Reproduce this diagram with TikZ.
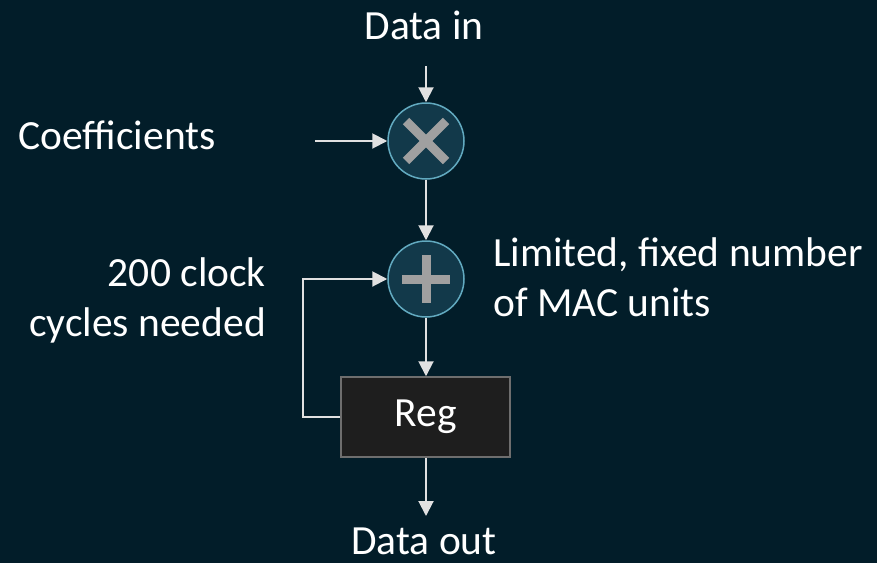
\documentclass[tikz,border=0pt]{standalone}
\usepackage{fontspec}
\setmainfont{Carlito}
\usetikzlibrary{arrows.meta,calc}
\definecolor{bg}{RGB}{2,29,41}
\definecolor{opfill}{RGB}{18,57,74}
\definecolor{opline}{RGB}{98,170,192}
\definecolor{symgray}{RGB}{160,160,160}
\definecolor{wire}{RGB}{225,225,225}
\definecolor{regfill}{RGB}{30,30,30}
\definecolor{regline}{RGB}{110,110,110}
\begin{document}
\begin{tikzpicture}[x=1pt,y=-1pt,
  lbl/.style={text=white,font=\fontsize{41.5}{50}\selectfont,inner sep=0pt},
  opnode/.style={circle,minimum size=76pt,inner sep=0pt,fill=opfill,draw=opline,line width=1.5pt},
  regbox/.style={rectangle,minimum width=169pt,minimum height=80pt,fill=regfill,draw=regline,line width=1.5pt,text=white,font=\fontsize{41.5}{50}\selectfont},
  wirearrow/.style={draw=wire,line width=2pt,-{Triangle[length=15pt,width=15pt,sep=0pt]}},
  sym/.style={draw=symgray,line width=9pt}
]
\fill[bg] (0,0) rectangle (877,563);
\useasboundingbox (0,0) rectangle (877,563);

\node[opnode] (mul) at (426,141) {};
\node[opnode] (add) at (426,279) {};
\node[regbox] (reg) at (425.5,417) {Reg};

\draw[sym] ($(mul)+(-20,-20)$) -- ($(mul)+(20,20)$);
\draw[sym] ($(mul)+(-20,20)$) -- ($(mul)+(20,-20)$);
\draw[sym] ($(add)+(-24,0)$) -- ($(add)+(24,0)$);
\draw[sym] ($(add)+(0,-24)$) -- ($(add)+(0,24)$);

\node[lbl] (din) at (424,25) {Data in};
\node[lbl] (dout) at (424,541) {Data out};
\node[lbl] (coef) at (117,135) {Coefficients};
\node[lbl,align=right,anchor=east] (clk) at (266,300) {200 clock\\cycles needed};
\node[lbl,align=left,anchor=west] (mac) at (493,277) {Limited, fixed number\\of MAC units};

\coordinate (dinS) at (426,66);
\coordinate (coefS) at (315,141);
\coordinate (doutE) at (426,516);
\coordinate (fbA) at (303,417);
\coordinate (fbB) at (303,279);

\draw[wirearrow] (dinS) -- (mul.north);
\draw[wirearrow] (coefS) -- (mul.west);
\draw[wirearrow] (mul.south) -- (add.north);
\draw[wirearrow] (add.south) -- (reg.north -| add.south);
\draw[wirearrow] (reg.south -| add.south) -- (doutE);
\draw[wirearrow] (reg.west) -- (fbA) -- (fbB) -- (add.west);
\end{tikzpicture}
\end{document}
